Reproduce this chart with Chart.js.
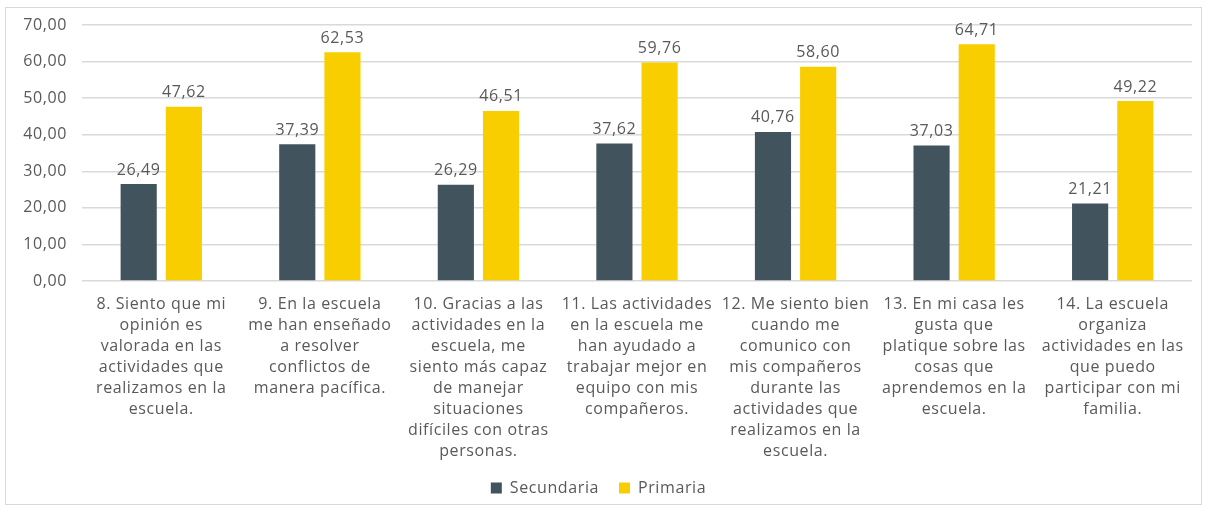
<!DOCTYPE html>
<html>
<head>
<meta charset="utf-8">
<script src="https://cdn.jsdelivr.net/npm/chart.js@4/dist/chart.umd.min.js"></script>
<style>
  html, body { margin: 0; padding: 0; background: #fff; }
  #wrap { width: 1207px; height: 508px; }
</style>
</head>
<body>
<div id="wrap"><canvas id="chart_encuesta"></canvas></div>
<script>
var categories = [
    ['8. Siento que mi', 'opinión es', 'valorada en las', 'actividades que', 'realizamos en la', 'escuela.'],
    ['9. En la escuela', 'me han enseñado', 'a resolver', 'conflictos de', 'manera pacífica.'],
    ['10. Gracias a las', 'actividades en la', 'escuela, me', 'siento más capaz', 'de manejar', 'situaciones', 'difíciles con otras', 'personas.'],
    ['11. Las actividades', 'en la escuela me', 'han ayudado a', 'trabajar mejor en', 'equipo con mis', 'compañeros.'],
    ['12. Me siento bien', 'cuando me', 'comunico con', 'mis compañeros', 'durante las', 'actividades que', 'realizamos en la', 'escuela.'],
    ['13. En mi casa les', 'gusta que', 'platique sobre las', 'cosas que', 'aprendemos en la', 'escuela.'],
    ['14. La escuela', 'organiza', 'actividades en las', 'que puedo', 'participar con mi', 'familia.']
];
var secundaria = [26.49, 37.39, 26.29, 37.62, 40.76, 37.03, 21.21];
var primaria = [47.62, 62.53, 46.51, 59.76, 58.60, 64.71, 49.22];

var fontFamily = "'Open Sans', sans-serif";
var textColor = '#595959';
var spacing = '0.6px';

function fmt(v) {
    return v.toFixed(2).replace('.', ',');
}

Chart.defaults.font.family = fontFamily;
Chart.defaults.color = textColor;

var chart_encuesta = new Chart(document.getElementById('chart_encuesta'), {
    type: 'bar',
    data: {
        labels: categories,
        datasets: [
            {
                label: 'Secundaria',
                data: secundaria,
                backgroundColor: '#41535d',
                categoryPercentage: 0.57,
                barPercentage: 0.8
            },
            {
                label: 'Primaria',
                data: primaria,
                backgroundColor: '#f9ce00',
                categoryPercentage: 0.57,
                barPercentage: 0.8
            }
        ]
    },
    options: {
        animation: false,
        responsive: true,
        maintainAspectRatio: false,
        layout: {
            padding: { left: 5, right: 15, top: 25, bottom: 2 }
        },
        plugins: {
            legend: {
                position: 'bottom',
                labels: {
                    boxWidth: 11,
                    boxHeight: 11,
                    padding: 20,
                    color: textColor,
                    font: { size: 16 }
                }
            },
            tooltip: { enabled: false }
        },
        scales: {
            x: {
                grid: { display: false },
                border: { display: false },
                ticks: {
                    autoSkip: false,
                    maxRotation: 0,
                    padding: 5,
                    color: textColor,
                    font: { size: 16, lineHeight: 1.3125 }
                },
                afterFit: function (scale) {
                    scale.height = 179;
                }
            },
            y: {
                min: 0,
                max: 70,
                grid: {
                    color: '#d9d9d9',
                    lineWidth: 1.5,
                    drawTicks: false
                },
                border: { display: false },
                ticks: {
                    stepSize: 10,
                    padding: 15,
                    color: textColor,
                    font: { size: 16 },
                    callback: function (v) { return fmt(v); }
                },
                afterFit: function (scale) {
                    scale.width = 77;
                }
            }
        }
    },
    plugins: [{
        id: 'valueLabels',
        afterDatasetsDraw: function (chart) {
            var ctx = chart.ctx;
            ctx.save();
            ctx.font = '16px ' + fontFamily;
            ctx.fillStyle = textColor;
            ctx.textAlign = 'center';
            ctx.textBaseline = 'bottom';
            chart.data.datasets.forEach(function (ds, i) {
                chart.getDatasetMeta(i).data.forEach(function (bar, j) {
                    ctx.fillText(fmt(ds.data[j]), bar.x, bar.y - 6);
                });
            });
            ctx.restore();
        }
    }, {
        id: 'frame',
        beforeUpdate: function (chart) {
            chart.ctx.letterSpacing = spacing;
        },
        beforeDraw: function (chart) {
            var ctx = chart.ctx;
            ctx.letterSpacing = spacing;
            ctx.save();
            ctx.fillStyle = 'white';
            ctx.fillRect(0, 0, chart.width, chart.height);
            ctx.strokeStyle = '#d9d9d9';
            ctx.lineWidth = 1;
            ctx.strokeRect(5.5, 7.5, chart.width - 11, chart.height - 11);
            ctx.restore();
        }
    }]
});
</script>
</body>
</html>
